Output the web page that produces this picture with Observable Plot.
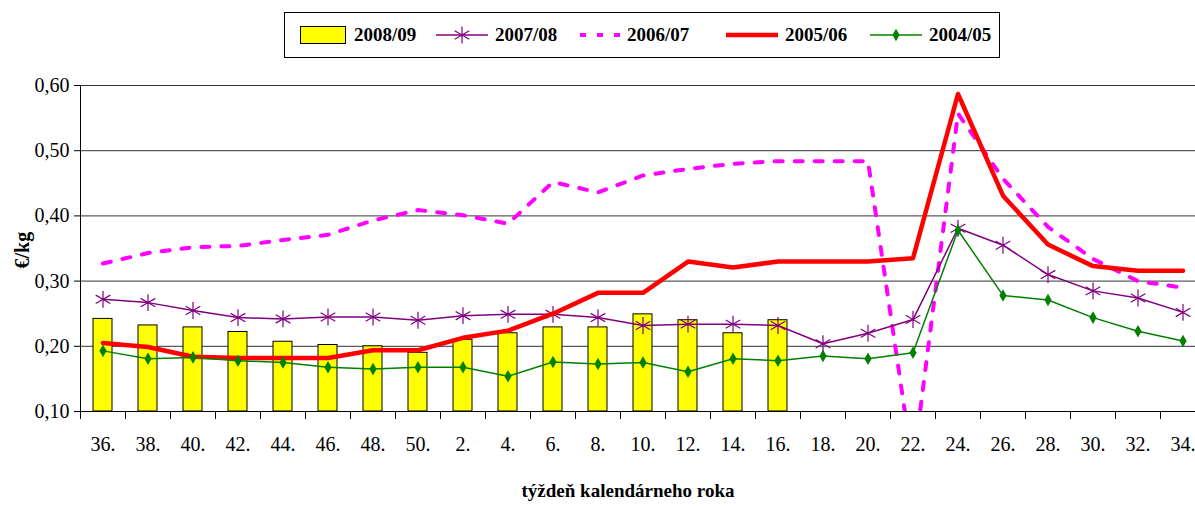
<!DOCTYPE html>
<html><head><meta charset="utf-8">
<script src="https://cdn.jsdelivr.net/npm/d3@7"></script>
<script src="https://cdn.jsdelivr.net/npm/@observablehq/plot@0.6"></script>
<style>
html,body{margin:0;padding:0;background:#fff;overflow:hidden;}
#wrap{position:relative;width:1195px;height:508px;}
#legend{position:relative;height:70px;}
#legend .box{position:absolute;left:284px;top:12px;width:716px;height:46px;border:1px solid #000;box-sizing:border-box;}
.item{position:absolute;top:0;height:44px;display:flex;align-items:center;font:bold 19px "Liberation Serif",serif;color:#000;white-space:nowrap;}
.item svg{margin-right:7px;}
#chart svg{display:block;}
</style></head>
<body>
<div id="wrap">
  <div id="legend"><div class="box"></div></div>
  <div id="chart"></div>
</div>
<script>
// ---- data ----
const weeks = ["36.","38.","40.","42.","44.","46.","48.","50.","2.","4.","6.","8.","10.","12.","14.","16.","18.","20.","22.","24.","26.","28.","30.","32.","34."];
const seriesNames = ["2008/09","2007/08","2006/07","2005/06","2004/05"];
const price0809 = [0.242,0.232,0.229,0.222,0.207,0.202,0.200,0.190,0.210,0.220,0.229,0.229,0.249,0.240,0.220,0.240];
const price0708 = [0.272,0.267,0.255,0.244,0.242,0.245,0.245,0.240,0.247,0.249,0.249,0.244,0.232,0.234,0.234,0.232,0.204,0.220,0.241,0.381,0.355,0.310,0.285,0.274,0.252];
const price0607 = [0.327,0.343,0.352,0.354,0.363,0.371,0.393,0.409,0.401,0.388,0.452,0.436,0.462,0.472,0.480,0.484,0.484,0.484,0.015,0.557,0.457,0.383,0.334,0.300,0.290];
const price0506 = [0.205,0.199,0.184,0.182,0.182,0.182,0.194,0.194,0.213,0.224,0.250,0.282,0.282,0.330,0.321,0.330,0.330,0.330,0.335,0.587,0.431,0.356,0.323,0.316,0.316];
const price0405 = [0.193,0.181,0.183,0.178,0.175,0.168,0.165,0.168,0.168,0.154,0.176,0.173,0.175,0.161,0.181,0.178,0.185,0.181,0.190,0.378,0.278,0.271,0.244,0.223,0.208];
const yTicks = [0.1,0.2,0.3,0.4,0.5,0.6];
const BASE = 0.1;
const yLabel = "€/kg";
const xLabel = "týždeň kalendárneho roka";

// ---- legend ----
const box = document.querySelector("#legend .box");
const legendLeft = [15, 151, 295, 441, 585];
function swatch(kind) {
  const s = d3.create("svg").attr("width", 52).attr("height", 22);
  if (kind === 0) {
    s.attr("width", 47);
    s.append("rect").attr("x",0.5).attr("y",2.5).attr("width",45).attr("height",17).attr("fill","#FFFF00").attr("stroke","#000");
  } else if (kind === 1) {
    s.append("line").attr("x1",0).attr("x2",52).attr("y1",11).attr("y2",11).attr("stroke","#800080").attr("stroke-width",1.5);
    s.append("path").attr("d", d3.symbol(d3.symbolAsterisk, Math.PI*8*8)()).attr("transform","translate(26,11)").attr("stroke","#800080").attr("stroke-width",1.2).attr("fill","none");
  } else if (kind === 2) {
    s.attr("width", 40);
    s.append("line").attr("x1",0).attr("x2",40).attr("y1",11).attr("y2",11).attr("stroke","#FF00FF").attr("stroke-width",4).attr("stroke-dasharray","6,11");
  } else if (kind === 3) {
    s.append("line").attr("x1",0).attr("x2",52).attr("y1",11).attr("y2",11).attr("stroke","#FF0000").attr("stroke-width",4.5);
  } else {
    s.append("line").attr("x1",0).attr("x2",52).attr("y1",11).attr("y2",11).attr("stroke","#008000").attr("stroke-width",1.5);
    s.append("path").attr("d", d3.symbol(d3.symbolDiamond, Math.PI*3.8*3.8)()).attr("transform","translate(26,11)").attr("fill","#008000");
  }
  return s.node();
}
seriesNames.forEach((name, i) => {
  const it = document.createElement("div");
  it.className = "item";
  it.style.left = legendLeft[i] + "px";
  it.appendChild(swatch(i));
  const t = document.createElement("span");
  t.textContent = name;
  it.appendChild(t);
  box.appendChild(it);
});

// ---- chart ----
const rows = vals => vals.map((v, i) => ({week: weeks[i], v}));
const fmt = d => d3.format(".2f")(d).replace(".", ",");

const chart = Plot.plot({
  width: 1195, height: 438,
  marginTop: 15, marginBottom: 97, marginLeft: 80, marginRight: -10,
  style: {fontFamily: '"Liberation Serif", serif', fontSize: "20px", color: "#000", background: "#fff"},
  x: {domain: weeks, paddingInner: 0.58, paddingOuter: 0.29, axis: null},
  y: {domain: [0.1, 0.6], axis: null},
  marks: [
    Plot.ruleY(yTicks.slice(1), {stroke: "#333", strokeWidth: 1}),
    Plot.barY(rows(price0809), {x: "week", y1: BASE, y2: "v", fill: "#FFFF00", stroke: "#000", strokeWidth: 1}),
    Plot.line(rows(price0607), {x: "week", y: "v", stroke: "#FF00FF", strokeWidth: 4, strokeDasharray: "8,12", clip: true}),
    Plot.line(rows(price0708), {x: "week", y: "v", stroke: "#800080", strokeWidth: 1.5}),
    Plot.dot(rows(price0708), {x: "week", y: "v", symbol: "asterisk", r: 8, stroke: "#800080", strokeWidth: 1.2}),
    Plot.line(rows(price0506), {x: "week", y: "v", stroke: "#FF0000", strokeWidth: 4.5}),
    Plot.line(rows(price0405), {x: "week", y: "v", stroke: "#008000", strokeWidth: 1.5}),
    Plot.dot(rows(price0405), {x: "week", y: "v", symbol: "diamond", r: 3.8, fill: "#008000"}),
    Plot.ruleY([BASE], {stroke: "#000"}),
    Plot.ruleX([weeks[0]], {y1: yTicks[0], y2: yTicks[yTicks.length - 1], dx: -22.5, stroke: "#000"}),
    Plot.axisY(yTicks, {anchor: "left", tickSize: 6, tickPadding: 5, tickFormat: fmt, fontSize: 20, label: null}),
    Plot.axisX(weeks, {anchor: "bottom", tickSize: 8, dx: -22.5, tickFormat: () => "", label: null}),
    Plot.axisX(weeks, {anchor: "bottom", tickSize: 0, tickPadding: 25, fontSize: 20, label: null}),
    Plot.text([yLabel], {frameAnchor: "left", dx: -58, dy: 20, rotate: -90, fontWeight: "bold", fontSize: 20}),
    Plot.text([xLabel], {frameAnchor: "bottom", dy: 85, dx: -15, fontWeight: "bold", fontSize: 19})
  ]
});
document.getElementById("chart").appendChild(chart);
</script>
</body></html>
